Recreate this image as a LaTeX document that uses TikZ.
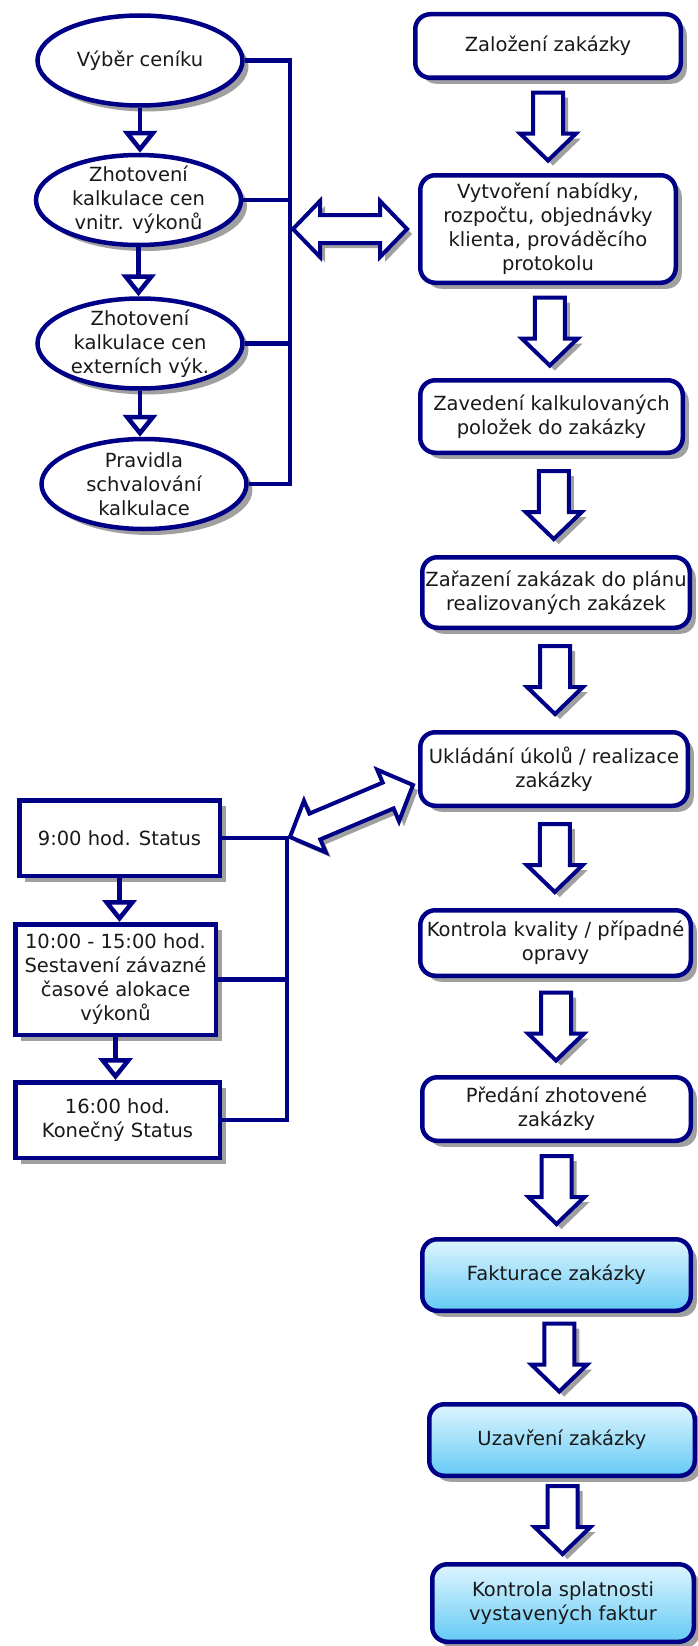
\documentclass[tikz,border=0pt]{standalone}
\usepackage{fontspec}
\setmainfont{DejaVu Sans}
\usetikzlibrary{shapes.geometric,arrows.meta,calc,shadows}

\definecolor{navyline}{RGB}{0,0,135}
\definecolor{shadowgray}{RGB}{160,160,160}
\definecolor{fillTop}{RGB}{222,245,254}
\definecolor{fillBot}{RGB}{100,202,245}
\definecolor{inktext}{RGB}{25,25,25}

\tikzset{
  x=1pt, y=-1pt,
  base/.style={draw=navyline, line width=4.5pt, fill=white, align=center,
    inner sep=2pt, text=inktext, font=\fontsize{19.5}{24}\selectfont},
  softshadow/.style={general shadow={fill=shadowgray, shadow xshift=6pt, shadow yshift=-6pt}},
  procbox/.style={base, rectangle, rounded corners=15pt, softshadow},
  bluebox/.style={procbox, top color=fillTop, bottom color=fillBot},
  ovalbox/.style={base, ellipse, inner xsep=-30pt, inner ysep=-22pt,
    minimum width=205pt, minimum height=90pt, softshadow},
  timebox/.style={base, rectangle, softshadow},
  wire/.style={draw=navyline, line width=4.5pt},
  tri/.style={wire, -{Triangle[open, length=22pt, width=34pt]}},
  arrowbody/.style={draw=navyline, line width=4pt, fill=white, line join=miter},
  arrowshade/.style={fill=shadowgray, transform canvas={shift={(5pt,-5pt)}}},
}

% hollow block arrow from tail #2 to tip #3, drawn with style #1
\newcommand\singlepath[3]{%
  \path[#1] ($(#2)!15pt!90:(#3)$) --
    ($(#3)!27pt!(#2)!15pt!90:(#3)$) --
    ($(#3)!27pt!(#2)!28pt!90:(#3)$) --
    (#3) --
    ($(#3)!27pt!(#2)!28pt!-90:(#3)$) --
    ($(#3)!27pt!(#2)!15pt!-90:(#3)$) --
    ($(#2)!15pt!-90:(#3)$) -- cycle;}
% hollow double-headed block arrow between tips #2 and #3
\newcommand\doublepath[3]{%
  \path[#1] (#2) --
    ($(#2)!27pt!(#3)!28pt!90:(#3)$) --
    ($(#2)!27pt!(#3)!14pt!90:(#3)$) --
    ($(#3)!27pt!(#2)!14pt!90:(#3)$) --
    ($(#3)!27pt!(#2)!28pt!90:(#3)$) --
    (#3) --
    ($(#3)!27pt!(#2)!28pt!-90:(#3)$) --
    ($(#3)!27pt!(#2)!14pt!-90:(#3)$) --
    ($(#2)!27pt!(#3)!14pt!-90:(#3)$) --
    ($(#2)!27pt!(#3)!28pt!-90:(#3)$) -- cycle;}
% downward block arrow between two stacked boxes
\newcommand\flowarrow[2]{%
  \coordinate (#1-#2-a) at ($(#1.south)!0.5!(#2.north)+(0,-34)$);
  \coordinate (#1-#2-b) at ($(#1.south)!0.5!(#2.north)+(0,34)$);
  \singlepath{arrowshade}{#1-#2-a}{#1-#2-b}
  \singlepath{arrowbody}{#1-#2-a}{#1-#2-b}}
\newcommand\linkarrow[2]{%
  \doublepath{arrowshade}{#1}{#2}
  \doublepath{arrowbody}{#1}{#2}}

\begin{document}
\begin{tikzpicture}
\useasboundingbox (0,0) rectangle (697,1646);

% pricing / calculation steps
\node[ovalbox] (e1) at (140,60.5) {Výběr ceníku};
\node[ovalbox] (e2) at (138.5,200) {Zhotovení\\kalkulace cen\\vnitr. výkonů};
\node[ovalbox] (e3) at (140,343.5) {Zhotovení\\kalkulace cen\\externích výk.};
\node[ovalbox] (e4) at (144,484) {Pravidla\\schvalování\\kalkulace};

% daily schedule
\node[timebox, minimum width=200.5pt, minimum height=75.5pt] (t1) at (119.5,838) {9:00 hod. Status};
\node[timebox, minimum width=200.5pt, minimum height=110.5pt] (t2) at (115.5,979.5)
  {10:00 - 15:00 hod.\\Sestavení závazné\\časové alokace\\výkonů};
\node[timebox, minimum width=204.5pt, minimum height=75.5pt] (t3) at (117.5,1120) {16:00 hod.\\Konečný Status};

% main order workflow
\node[procbox, minimum width=265.5pt, minimum height=63.5pt] (r1) at (548,46) {Založení zakázky};
\node[procbox, minimum width=255.5pt, minimum height=107.5pt] (r2) at (548,229)
  {Vytvoření nabídky,\\rozpočtu, objednávky\\klienta, prováděcího\\protokolu};
\node[procbox, minimum width=262.5pt, minimum height=72.5pt] (r3) at (551.5,416.5)
  {Zavedení kalkulovaných\\položek do zakázky};
\node[procbox, minimum width=267.5pt, minimum height=70.5pt] (r4) at (556,592.5)
  {Zařazení zakázak do plánu\\realizovaných zakázek};
\node[procbox, minimum width=267.5pt, minimum height=73.5pt] (r5) at (554,769)
  {Ukládání úkolů / realizace\\zakázky};
\node[procbox, minimum width=270.5pt, minimum height=65.5pt] (r6) at (555.5,943)
  {Kontrola kvality / případné\\opravy};
\node[procbox, minimum width=268.5pt, minimum height=63.5pt] (r7) at (556.5,1109)
  {Předání zhotovené\\zakázky};
\node[bluebox, minimum width=268.5pt, minimum height=71.5pt] (r8) at (556.5,1275) {Fakturace zakázky};
\node[bluebox, minimum width=265.5pt, minimum height=71.5pt] (r9) at (562,1440) {Uzavření zakázky};
\node[bluebox, minimum width=261.5pt, minimum height=77.5pt] (r10) at (563,1603)
  {Kontrola splatnosti\\vystavených faktur};

% small sequence arrows on the left
\draw[tri] (e1.south) -- (e1.south |- e2.north);
\draw[tri] (e2.south) -- (e2.south |- e3.north);
\draw[tri] (e3.south) -- (e3.south |- e4.north);
\draw[tri] (t1.south) -- (t1.south |- t2.north);
\draw[tri] (t2.south) -- (t2.south |- t3.north);

% collecting buses
\coordinate (busA) at (290,0);
\coordinate (busB) at (287,0);
\draw[wire] (e1.east) -- (e1.east -| busA) -- (busA |- e4.east) -- (e4.east);
\draw[wire] (e2.east) -- (e2.east -| busA);
\draw[wire] (e3.east) -- (e3.east -| busA);
\draw[wire] (t1.east) -- (t1.east -| busB) -- (busB |- t3.east) -- (t3.east);
\draw[wire] (t2.east) -- (t2.east -| busB);

% block arrows of the main workflow
\flowarrow{r1}{r2}
\flowarrow{r2}{r3}
\flowarrow{r3}{r4}
\flowarrow{r4}{r5}
\flowarrow{r5}{r6}
\flowarrow{r6}{r7}
\flowarrow{r7}{r8}
\flowarrow{r8}{r9}
\flowarrow{r9}{r10}

% two-way links between the side groups and the workflow
\coordinate (la) at ($(busA |- r2.west)+(3,0)$);
\coordinate (lb) at ($(r2.west)+(-11,0)$);
\linkarrow{la}{lb}
\coordinate (lc) at ($(busB |- t1.east)+(3,-1)$);
\coordinate (ld) at ($(r5.west)+(-5,16)$);
\linkarrow{lc}{ld}
\end{tikzpicture}
\end{document}
